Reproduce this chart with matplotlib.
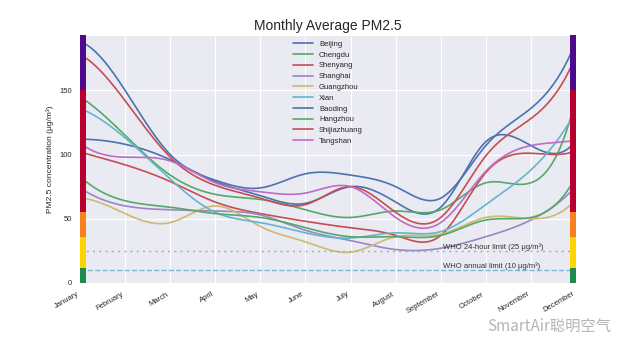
import numpy as np
import matplotlib
matplotlib.use("Agg")
import matplotlib.pyplot as plt
import matplotlib.transforms as mtransforms
import seaborn as sns

months = ['January', 'February', 'March', 'April', 'May', 'June', 'July',
          'August', 'September', 'October', 'November', 'December']

# monthly averages (ug/m3)
beijing = [112, 108, 96, 79, 68, 62, 75, 63, 59, 110, 107, 111]
chengdu = [145, 115, 84, 69, 65, 57, 51, 56, 57, 78, 78, 144]
shenyang = [102, 92, 79, 63, 54, 48, 43, 37, 37, 86, 101, 103]
shanghai = [74, 60, 57, 56, 53, 41, 33, 26, 27, 36, 49, 75]
guangzhou = [66, 54, 47, 60, 44, 32, 24, 36, 38, 51, 50, 65]
xian = [136, 113, 81, 55, 47, 39, 35, 39, 40, 61, 88, 134]
baoding = [188, 150, 100, 80, 74, 85, 84, 75, 66, 107, 136, 188]
hangzhou = [83, 64, 59, 54, 51, 43, 36, 36, 37, 49, 51, 83]
shijiazhuang = [178, 142, 98, 76, 66, 61, 75, 55, 51, 99, 128, 177]
tangshan = [109, 98, 95, 78, 71, 70, 75, 51, 47, 87, 107, 111]

cities = ['Beijing', 'Chengdu', 'Shenyang', 'Shanghai', 'Guangzhou', 'Xian',
          'Baoding', 'Hangzhou', 'Shijiazhuang', 'Tangshan']
series = [beijing, chengdu, shenyang, shanghai, guangzhou, xian,
          baoding, hangzhou, shijiazhuang, tangshan]
colors = ['#4C72B0', '#55A868', '#C44E52', '#9A86C6', '#CCB974', '#64B5CD',
          '#4C72B0', '#55A868', '#C44E52', '#BE6CC4']

# AQI bands shown on the edges
band_edges = [0, 12, 35.4, 55.4, 150.4, 250]
band_colors = ['#1E8A4C', '#FFD500', '#F5821F', '#B80030', '#4E0A8C']


def smooth(y, n=300):
    # not-a-knot cubic spline through equally spaced points
    y = np.asarray(y, dtype=float)
    k = len(y)
    A = np.zeros((k, k))
    b = np.zeros(k)
    A[0, :3] = [1, -2, 1]
    A[-1, -3:] = [1, -2, 1]
    for i in range(1, k - 1):
        A[i, i - 1:i + 2] = [1, 4, 1]
        b[i] = 6 * (y[i + 1] - 2 * y[i] + y[i - 1])
    M = np.linalg.solve(A, b)
    xs = np.linspace(0, k - 1, n)
    idx = np.minimum(xs.astype(int), k - 2)
    t = xs - idx
    ys = (M[idx] * (1 - t) ** 3 / 6 + M[idx + 1] * t ** 3 / 6
          + (y[idx] - M[idx] / 6) * (1 - t) + (y[idx + 1] - M[idx + 1] / 6) * t)
    return xs, ys


sns.set_style('darkgrid')
plt.rcParams['font.family'] = ['Liberation Sans', 'DejaVu Sans']

fig = plt.figure(figsize=(6.4, 3.55), dpi=100)
ax = fig.add_axes([0.125, 0.203, 0.775, 0.698])

for name, vals, c in zip(cities, series, colors):
    xs, ys = smooth(vals)
    ax.plot(xs, ys, color=c, lw=1.2, label=name)

ax.axhline(25, color='#aaaaaa', ls=(0, (1.5, 3)), lw=1)
ax.axhline(10, color='#7DB7D6', ls='--', lw=1)
ax.text(8.05, 26.5, 'WHO 24-hour limit (25 μg/m³)', fontsize=5.5, color='#333333')
ax.text(8.05, 11.5, 'WHO annual limit (10 μg/m³)', fontsize=5.5, color='#333333')

trans = mtransforms.blended_transform_factory(ax.transAxes, ax.transData)
for lo, hi, c in zip(band_edges[:-1], band_edges[1:], band_colors):
    for x0 in (0, 0.988):
        ax.add_patch(plt.Rectangle((x0, lo), 0.012, hi - lo, transform=trans,
                                   color=c, lw=0, zorder=3, clip_on=True))

ax.set_xlim(0, 11)
ax.set_ylim(0, 193)
ax.set_xticks(range(12))
ax.set_xticklabels(months, rotation=30, ha='right', fontsize=5.5)
ax.set_yticks([0, 50, 100, 150])
ax.tick_params(axis='y', labelsize=5.5)
ax.tick_params(axis='both', pad=2)
ax.set_ylabel('PM2.5 concentration (μg/m³)', fontsize=6)
ax.set_title('Monthly Average PM2.5', fontsize=10, pad=4)
ax.legend(loc='upper center', fontsize=5.5, frameon=False, handlelength=2.6,
          labelspacing=0.45, borderaxespad=0.3)

fig.text(0.762, 0.082, 'SmartAir聪明空气', fontsize=11, color='#b5b5b5',
         family=['Noto Sans CJK SC', 'DejaVu Sans'], va='center')

fig.savefig('out.png', dpi=100)
